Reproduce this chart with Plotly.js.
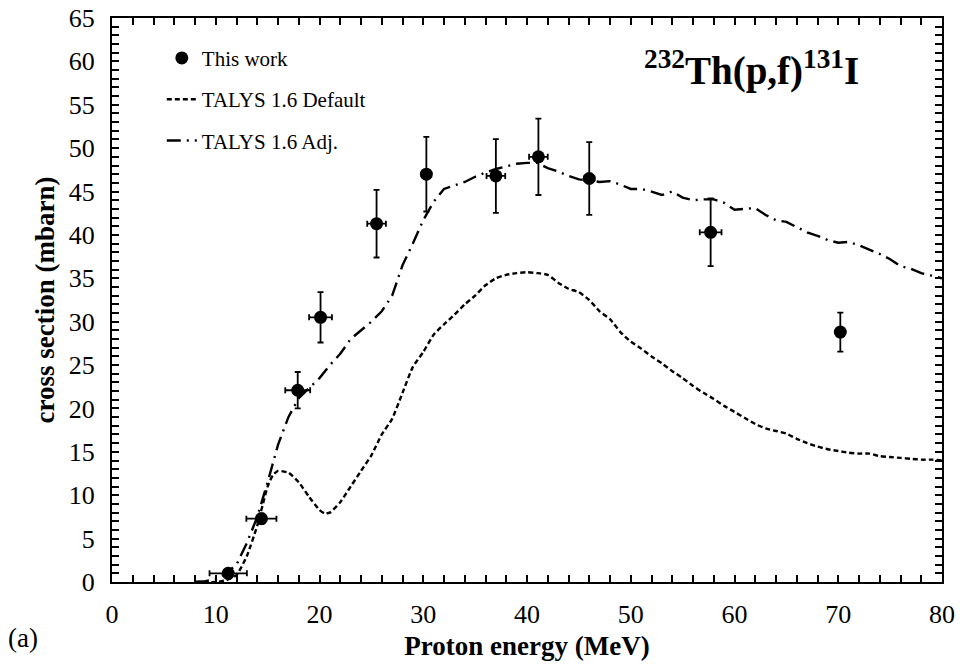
<!DOCTYPE html>
<html>
<head>
<meta charset="utf-8">
<script src="https://cdn.plot.ly/plotly-3.0.1.min.js"></script>
<style>html,body{margin:0;padding:0;background:#fff;}#chart{width:960px;height:668px;}</style>
</head>
<body>
<div id="chart"></div>
<script>
// Experimental data: This work
const expE    = [11.2, 14.4, 17.9, 20.1, 25.5, 30.3, 37.0, 41.1, 46.0, 57.7, 70.2];
const expXS   = [1.0, 7.3, 22.1, 30.5, 41.3, 47.0, 46.8, 49.0, 46.5, 40.3, 28.8];
const expEerr = [1.8, 1.45, 1.2, 1.1, 0.9, 0.3, 0.9, 0.9, 0.5, 1.05, 0];
const expXSerr= [0.3, 0.6, 2.1, 2.9, 3.9, 4.3, 4.25, 4.4, 4.2, 3.9, 2.25];

// TALYS 1.6 Default
const defE  = [8,10,11,12,13,14,15,15.5,16,17,18,19,20,20.5,21,22,23,24,25,26,27,28,29,30,31,32,33,34,35,36,37,38,39,40,41,42,43,44,45,46,47,48,49,50,51,52,53,54,55,56,57,58,59,60,61,62,63,64,65,66,67,68,69,70,71,72,73,74,75,76,77,78,79,80];
const defXS = [0,0,0.2,0.8,3,6.5,11,12.3,12.8,12.6,11.5,9.8,8.3,7.9,8.0,9.2,11,12.8,14.6,17,18.8,21.8,24.8,26.5,28.5,29.7,30.8,32,33,34.2,35,35.4,35.6,35.7,35.6,35.4,34.5,33.8,33.4,32.5,31.2,30.3,28.8,27.7,26.9,26,25.2,24.3,23.5,22.6,21.8,21.1,20.3,19.6,18.9,18.2,17.7,17.4,17.1,16.5,16.0,15.6,15.3,15.1,14.9,14.8,14.8,14.5,14.4,14.3,14.2,14.1,14.1,14.0];

// TALYS 1.6 Adj.
const adjE  = [8,9,10,11,12,13,14,15,16,17,18,19,20,21,22,23,24,25,26,27,28,29,30,31,32,33,34,35,36,37,38,39,40,41,42,43,44,45,46,47,48,49,50,51,52,53,54,55,56,57,58,59,60,61,62,63,64,65,66,67,68,69,70,71,72,73,74,75,76,77,78,79,80];
const adjXS = [0,0.1,0.3,1,2,4.5,7.5,11.5,15.8,19,21.2,22.3,23.5,25,26.3,28,29,30,31.2,33,36.5,39,41.7,43.8,45.3,45.7,46.1,46.7,47.2,47.6,47.9,48.2,48.3,48.3,47.7,47.3,46.8,46.4,46.3,46.1,46.2,45.8,45.3,45.3,45.0,44.6,45.0,44.3,44.0,44.1,44.1,43.7,42.9,43.0,43.1,42.3,41.7,41.5,40.9,40.3,39.9,39.4,39.1,39.2,38.8,38.3,37.8,37.2,36.4,36.1,35.6,35.3,35.0];

const xTickVals = [0,10,20,30,40,50,60,70,80];
const yTickVals = [0,5,10,15,20,25,30,35,40,45,50,55,60,65];

const serif = 'Liberation Serif, Times New Roman, serif';

const traces = [
  {
    x: expE, y: expXS, type: 'scatter', mode: 'markers', name: 'This work',
    legendgroup: 'a',
    marker: {color: '#000', size: 13, symbol: 'circle'},
    error_x: {type: 'data', array: expEerr, visible: true, color: '#000', thickness: 1.8, width: 3},
    error_y: {type: 'data', array: expXSerr, visible: true, color: '#000', thickness: 1.8, width: 3}
  },
  {
    x: defE, y: defXS, type: 'scatter', mode: 'lines', name: 'TALYS 1.6 Default',
    legendgroup: 'b',
    line: {color: '#000', width: 2.4, dash: '5px,3px', shape: 'spline', smoothing: 0.5}
  },
  {
    x: adjE, y: adjXS, type: 'scatter', mode: 'lines', name: 'TALYS 1.6 Adj.',
    legendgroup: 'c',
    line: {color: '#000', width: 2.4, dash: '14px,6px,2px,6px'}
  }
];

const axisCommon = {
  showgrid: false, zeroline: false,
  showline: true, linecolor: '#000', linewidth: 2,
  mirror: 'allticks', ticks: 'inside', ticklen: 7, tickwidth: 2, tickcolor: '#000',
  tickfont: {family: serif, size: 26, color: '#000'}
};

const layout = {
  width: 960, height: 668,
  margin: {l: 112, r: 18, t: 18, b: 86},
  paper_bgcolor: '#fff', plot_bgcolor: '#fff',
  showlegend: true,
  legend: {
    x: 0.06, y: 0.965, xanchor: 'left', yanchor: 'top',
    font: {family: serif, size: 21, color: '#000'},
    bgcolor: 'rgba(0,0,0,0)', tracegroupgap: 11, itemwidth: 30
  },
  xaxis: Object.assign({}, axisCommon, {
    range: [0, 80], tickmode: 'array', tickvals: xTickVals, ticklabelstandoff: 8,
    minor: {dtick: 2, ticks: 'inside', ticklen: 7, tickwidth: 2, tickcolor: '#000', showgrid: false},
    title: {text: '<b>Proton energy (MeV)</b>', font: {family: serif, size: 27, color: '#000'}, standoff: 8}
  }),
  yaxis: Object.assign({}, axisCommon, {
    range: [0, 65], tickmode: 'array', tickvals: yTickVals, ticklabelstandoff: 10,
    minor: {dtick: 1, ticks: 'inside', ticklen: 7, tickwidth: 2, tickcolor: '#000', showgrid: false},
    title: {text: '<b>cross section (mbarn)</b>', font: {family: serif, size: 27, color: '#000'}, standoff: 6}
  }),
  annotations: [
    {
      xref: 'paper', yref: 'paper', x: 0.77, y: 0.91, xanchor: 'center', yanchor: 'middle',
      text: '<b><sup>232</sup>Th(p,f)<sup>131</sup>I</b>', showarrow: false,
      font: {family: serif, size: 39, color: '#000'}
    },
    {
      xref: 'paper', yref: 'paper', x: -0.128, y: -0.1, xanchor: 'left', yanchor: 'middle',
      text: '(a)', showarrow: false,
      font: {family: serif, size: 27, color: '#000'}
    }
  ]
};

Plotly.newPlot('chart', traces, layout, {displayModeBar: false, staticPlot: true});
</script>
</body>
</html>
